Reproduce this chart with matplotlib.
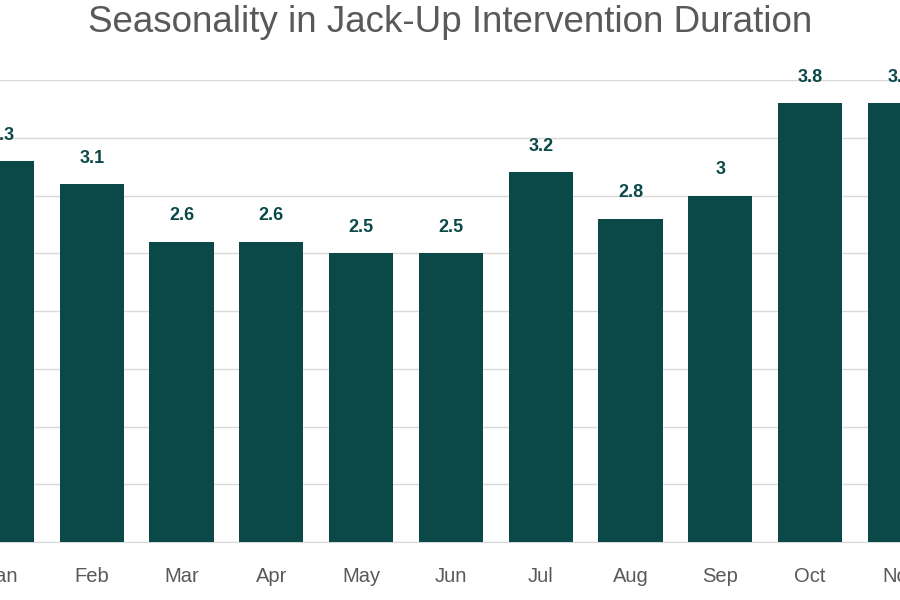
import matplotlib
matplotlib.use("Agg")
import matplotlib.pyplot as plt

months = ["Jan","Feb","Mar","Apr","May","Jun","Jul","Aug","Sep","Oct","Nov"]
values = [3.3,3.1,2.6,2.6,2.5,2.5,3.2,2.8,3.0,3.8,3.8]
labels = ["3.3","3.1","2.6","2.6","2.5","2.5","3.2","2.8","3","3.8","3.8"]

fig = plt.figure(figsize=(9,6), dpi=100)
ax = fig.add_axes([0, 1-542/600, 1, (542-80)/600])
x = list(range(len(months)))
color = "#0B4848"
ax.bar(x, values, width=0.715, color=color, zorder=3)
for xi, v, l in zip(x, values, labels):
    ax.text(xi, v+0.15, l, ha="center", va="bottom", fontsize=13, fontweight="bold",
            color=color, family="Liberation Sans", clip_on=False)
ax.set_xlim(-0.022, 9.856)
ax.set_ylim(0, 4)
ax.set_yticks([i*0.5 for i in range(9)])
ax.yaxis.grid(True, color="#D9D9D9", lw=1, zorder=0)
ax.tick_params(axis="y", left=False, labelleft=False)
ax.tick_params(axis="x", length=0, pad=18, labelsize=14.5, labelcolor="#595959")
ax.set_xticks(x)
ax.set_xticklabels(months, family="Liberation Sans")
for s in ["top","left","right"]:
    ax.spines[s].set_visible(False)
ax.spines["bottom"].set_color("#D9D9D9")
fig.text(0.5, 0.962, "Seasonality in Jack-Up Intervention Duration", ha="center", va="center",
         fontsize=26.5, color="#595959", family="Liberation Sans")
fig.savefig("out.png", dpi=100)
